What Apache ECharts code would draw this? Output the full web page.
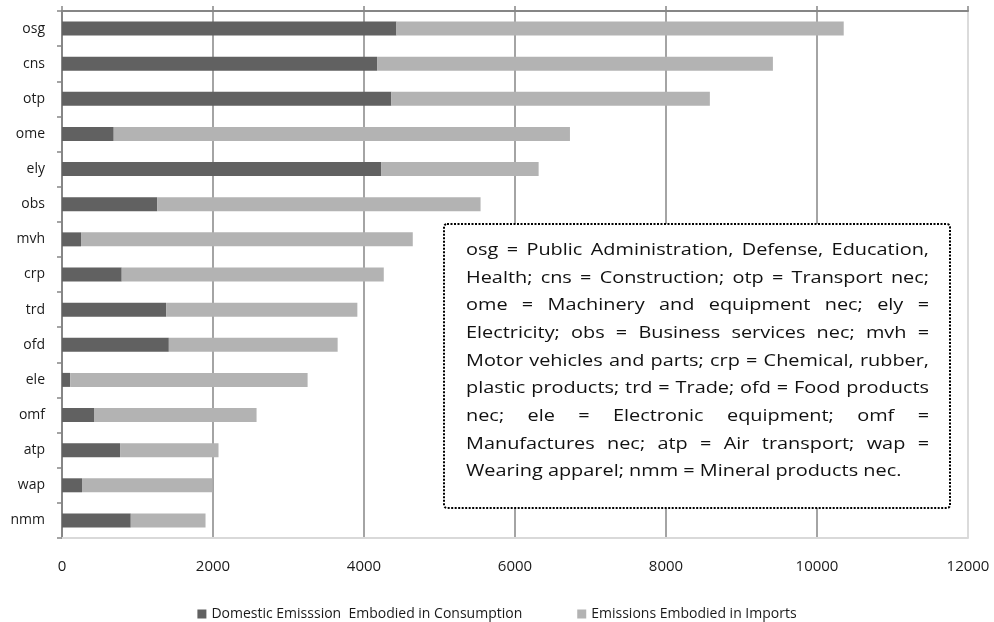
<!DOCTYPE html>
<html>
<head>
<meta charset="utf-8">
<script src="https://cdn.jsdelivr.net/npm/echarts@6/dist/echarts.min.js"></script>
<style>
  html, body { margin: 0; padding: 0; background: #fff; }
  #chart { width: 994px; height: 622px; }
</style>
</head>
<body>
<div id="chart"></div>
<script>
// sectors, top to bottom
const sectors = ['osg', 'cns', 'otp', 'ome', 'ely', 'obs', 'mvh', 'crp', 'trd', 'ofd', 'ele', 'omf', 'atp', 'wap', 'nmm'];
const domestic = [4430, 4173, 4363, 685, 4226, 1260, 252, 791, 1379, 1415, 110, 424, 769, 265, 911];
const imports = [5924, 5243, 4218, 6043, 2087, 4284, 4394, 3471, 2533, 2236, 3143, 2153, 1304, 1729, 990];
const seriesNames = ['Domestic Emisssion  Embodied in Consumption', 'Emissions Embodied in Imports'];

// note box, one entry per printed line (justified like the original)
const noteLines = [
  'osg = Public Administration, Defense, Education,',
  'Health; cns = Construction; otp = Transport nec;',
  'ome = Machinery and equipment nec; ely =',
  'Electricity; obs = Business services nec; mvh =',
  'Motor vehicles and parts; crp = Chemical, rubber,',
  'plastic products; trd = Trade; ofd = Food products',
  'nec; ele = Electronic equipment; omf =',
  'Manufactures nec; atp = Air transport; wap =',
  'Wearing apparel; nmm = Mineral products nec.'
];

const FONT = '"Open Sans", sans-serif';
const axisGray = '#868686';

const myChart = echarts.init(document.getElementById('chart'), null, { renderer: 'canvas' });

// build justified note text (the source font is a bit wider, so stretch it)
const noteFontSize = 17;
const stretch = 1.17;
const ctx = document.createElement('canvas').getContext('2d');
ctx.font = noteFontSize + 'px "Open Sans"';
const boxX = 444, boxY = 224, boxW = 506, boxH = 284;
const textLeft = 466, textRight = 929, firstLineY = 250, lineStep = 27.7;
const noteTexts = [];
noteLines.forEach((line, i) => {
  const words = line.split(' ');
  const y = firstLineY + i * lineStep;
  const widths = words.map(w => ctx.measureText(w).width * stretch);
  const total = widths.reduce((a, b) => a + b, 0);
  const isLast = i === noteLines.length - 1;
  const gap = isLast ? ctx.measureText(' ').width * stretch : (textRight - textLeft - total) / (words.length - 1);
  let x = textLeft;
  words.forEach((w, j) => {
    noteTexts.push({
      type: 'text',
      x: x,
      y: y,
      scaleX: stretch,
      z: 101,
      style: {
        text: w,
        font: noteFontSize + 'px ' + FONT,
        fill: '#111',
        textVerticalAlign: 'middle'
      }
    });
    x += widths[j] + gap;
  });
});

const option = {
  animation: false,
  textStyle: { fontFamily: FONT },
  grid: { left: 62, right: 26, top: 11, bottom: 84 },
  legend: {
    data: seriesNames,
    left: 'center',
    top: 602,
    icon: 'rect',
    itemWidth: 9,
    itemHeight: 9,
    itemGap: 55,
    textStyle: { fontFamily: FONT, fontSize: 14, color: '#1a1a1a' }
  },
  xAxis: [
    {
      type: 'value',
      position: 'bottom',
      min: 0,
      max: 12000,
      interval: 2000,
      axisLine: { show: true, lineStyle: { color: '#d9d9d9', width: 2 } },
      axisTick: { show: false },
      axisLabel: {
        fontFamily: FONT,
        fontSize: 15,
        color: '#1a1a1a',
        margin: 21,
        formatter: v => String(v)
      },
      splitLine: {
        show: true,
        lineStyle: {
          color: [axisGray, axisGray, axisGray, axisGray, axisGray, axisGray, '#cfcfcf'],
          width: 1.5
        }
      }
    },
    {
      type: 'value',
      position: 'top',
      min: 0,
      max: 12000,
      interval: 2000,
      axisLine: { show: true, lineStyle: { color: axisGray, width: 2 } },
      axisTick: { show: true, length: 5, lineStyle: { color: axisGray, width: 1.5 } },
      axisLabel: { show: false },
      splitLine: { show: false }
    }
  ],
  yAxis: {
    type: 'category',
    data: sectors,
    inverse: true,
    axisLine: { show: true, lineStyle: { color: axisGray, width: 2 } },
    axisTick: { show: true, length: 5, lineStyle: { color: axisGray, width: 1.5 } },
    axisLabel: { fontFamily: FONT, fontSize: 14, color: '#1a1a1a', margin: 17 }
  },
  series: [
    {
      name: seriesNames[0],
      type: 'bar',
      stack: 'total',
      data: domestic,
      barWidth: 14,
      itemStyle: { color: '#616161' }
    },
    {
      name: seriesNames[1],
      type: 'bar',
      stack: 'total',
      data: imports,
      barWidth: 14,
      itemStyle: { color: '#b3b3b3' }
    }
  ],
  graphic: [
    {
      type: 'rect',
      z: 100,
      shape: { x: boxX, y: boxY, width: boxW, height: boxH, r: 3 },
      style: { fill: '#fff', stroke: '#000', lineWidth: 2, lineDash: [2, 1.5] }
    }
  ].concat(noteTexts)
};

myChart.setOption(option);
</script>
</body>
</html>
